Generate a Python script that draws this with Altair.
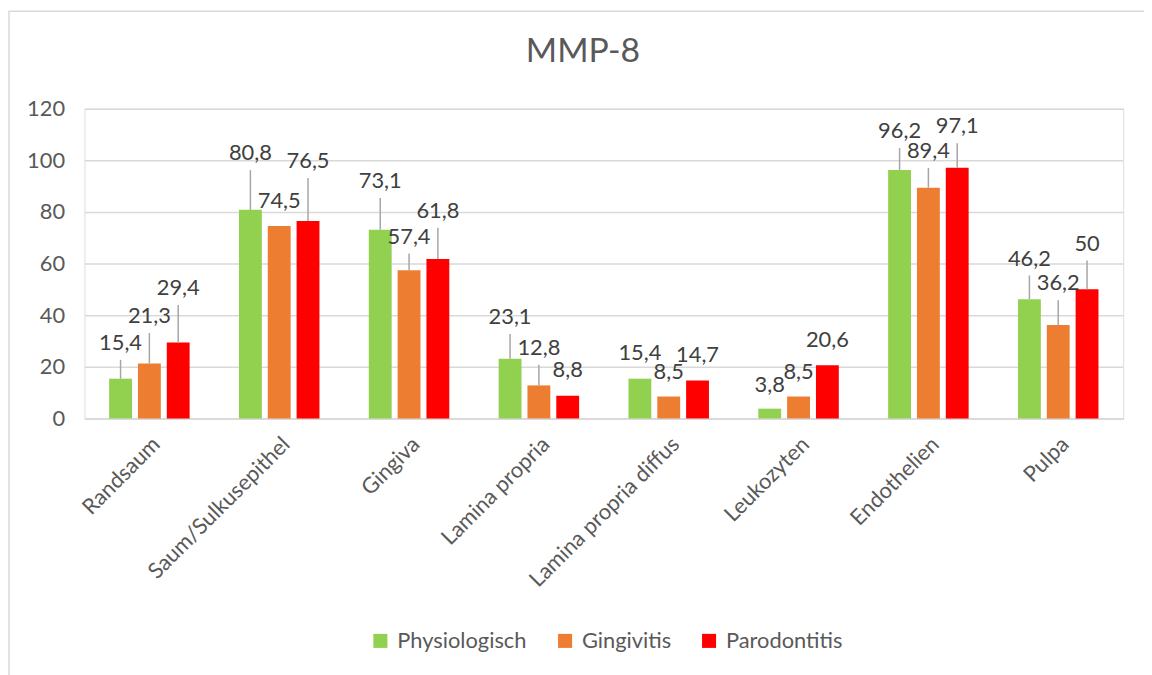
import altair as alt
import pandas as pd

categories = ["Randsaum", "Saum/Sulkusepithel", "Gingiva", "Lamina propria",
              "Lamina propria diffus", "Leukozyten", "Endothelien", "Pulpa"]
series = ["Physiologisch", "Gingivitis", "Parodontitis"]
colors = ["#92d050", "#ed7d31", "#ff0000"]
title_text = "MMP-8"

physiologisch = [15.4, 80.8, 73.1, 23.1, 15.4, 3.8, 96.2, 46.2]
gingivitis = [21.3, 74.5, 57.4, 12.8, 8.5, 8.5, 89.4, 36.2]
parodontitis = [29.4, 76.5, 61.8, 8.8, 14.7, 20.6, 97.1, 50]

# data-label heights (value units)
label_phys = [29.2, 102.7, 91.9, 39.2, 25.4, 13.1, 111.2, 61.9]
label_ging = [39.6, 84.2, 70.4, 27.3, 18.1, 18.1, 103.5, 52.3]
label_paro = [50.4, 99.6, 80.4, 18.8, 24.6, 30.4, 113.1, 67.7]

label_text = {
    "Physiologisch": ["15,4", "80,8", "73,1", "23,1", "15,4", "3,8", "96,2", "46,2"],
    "Gingivitis": ["21,3", "74,5", "57,4", "12,8", "8,5", "8,5", "89,4", "36,2"],
    "Parodontitis": ["29,4", "76,5", "61,8", "8,8", "14,7", "20,6", "97,1", "50"],
}

rows = []
for s, vals, labs in zip(series, [physiologisch, gingivitis, parodontitis],
                         [label_phys, label_ging, label_paro]):
    for c, v, ly, t in zip(categories, vals, labs, label_text[s]):
        lead_top = ly - 6.5
        rows.append({"cat": c, "series": s, "value": v, "label_y": ly,
                     "text": t, "lead_top": lead_top,
                     "has_lead": (lead_top - v) > 4.5})
df = pd.DataFrame(rows)

FONT = "Lato"
GRAY = "#595959"
FS = 22

x_enc = alt.X("cat:N", sort=categories, title=None,
              scale=alt.Scale(paddingInner=0.38, paddingOuter=0.19),
              axis=alt.Axis(labelAngle=-45, labelFontSize=FS, labelColor=GRAY,
                            labelFont=FONT, ticks=False, domainColor="#d9d9d9",
                            domainWidth=1.5, labelPadding=15, labelLimit=400))
xo_enc = alt.XOffset("series:N", sort=series,
                     scale=alt.Scale(paddingInner=0.207, paddingOuter=0))

base = alt.Chart(df)

bars = base.mark_bar().encode(
    x=x_enc,
    xOffset=xo_enc,
    y=alt.Y("value:Q", title=None,
            scale=alt.Scale(domain=[0, 120]),
            axis=alt.Axis(values=[0, 20, 40, 60, 80, 100, 120], domain=False,
                          ticks=False, gridColor="#d9d9d9", gridWidth=1.5,
                          labelFontSize=FS, labelColor=GRAY, labelFont=FONT,
                          labelPadding=20)),
    color=alt.Color("series:N", sort=series,
                    scale=alt.Scale(domain=series, range=colors),
                    legend=alt.Legend(title=None, orient="none", direction="horizontal",
                                      legendX=287, legendY=525,
                                      symbolType="square", symbolSize=200,
                                      symbolStrokeWidth=0,
                                      labelFontSize=FS, labelColor=GRAY, labelFont=FONT,
                                      labelOffset=6, columnPadding=27)),
)

leaders = base.transform_filter("datum.has_lead").mark_rule(
    color="#a6a6a6", strokeWidth=1.5).encode(
    x=alt.X("cat:N", sort=categories),
    xOffset=alt.XOffset("series:N", sort=series),
    y="value:Q",
    y2="lead_top:Q",
)

labels = base.mark_text(fontSize=FS, font=FONT, color="#404040",
                        baseline="middle").encode(
    x=alt.X("cat:N", sort=categories),
    xOffset=alt.XOffset("series:N", sort=series),
    y="label_y:Q",
    text="text:N",
)

border = alt.Chart(pd.DataFrame({"a": [0]})).mark_rect(
    fill="transparent", stroke="#d9d9d9", strokeWidth=1.5).encode(
    x=alt.value(-76), y=alt.value(-98), x2=alt.value(1300), y2=alt.value(800))

title = alt.Chart(pd.DataFrame({"t": [title_text]})).mark_text(
    fontSize=34, font=FONT, color=GRAY, baseline="middle", align="center").encode(
    x=alt.value(502), y=alt.value(-57), text="t:N")

chart = alt.layer(border, bars, leaders, labels, title).properties(
    width=1046, height=312,
    autosize=alt.AutoSizeParams(type="none"),
    padding={"left": 77, "top": 99, "right": 21, "bottom": 256},
).configure_view(stroke=None).configure(background="white")

chart.save("out.html", embed_options={"renderer": "svg", "actions": False})
